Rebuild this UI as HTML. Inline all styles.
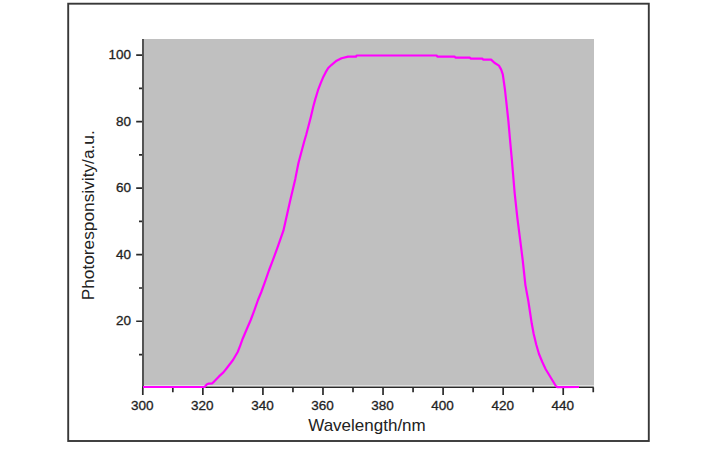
<!DOCTYPE html><html><head><meta charset="utf-8"><style>html,body{margin:0;padding:0;background:#fff;width:726px;height:450px;overflow:hidden}svg{display:block}text{font-family:"Liberation Sans",sans-serif}</style></head><body>
<svg width="726" height="450" viewBox="0 0 726 450">
<rect x="0" y="0" width="726" height="450" fill="#fff"/>
<rect x="68.2" y="3.7" width="580.6" height="437.3" fill="none" stroke="#383838" stroke-width="1.9"/>
<rect x="144" y="39" width="450" height="346.5" fill="#c0c0c0"/>
<path d="M142.80 387.5V395.00 M172.83 387.5V392.20 M202.86 387.5V395.00 M232.89 387.5V392.20 M262.92 387.5V395.00 M292.95 387.5V392.20 M322.98 387.5V395.00 M353.01 387.5V392.20 M383.04 387.5V395.00 M413.07 387.5V392.20 M443.10 387.5V395.00 M473.13 387.5V392.20 M503.16 387.5V395.00 M533.19 387.5V392.20 M563.22 387.5V395.00 M593.25 387.5V392.20 M142 354.53H139.00 M142 321.26H136.20 M142 287.99H139.00 M142 254.72H136.20 M142 221.45H139.00 M142 188.18H136.20 M142 154.91H139.00 M142 121.64H136.20 M142 88.37H139.00 M142 55.10H136.20" stroke="#2a2a2a" stroke-width="1.7" fill="none"/>
<path d="M143 39V388 M142 387.2H593.8" stroke="#2a2a2a" stroke-width="1.6" fill="none"/>
<text x="142.30" y="410.3" font-size="13.5" text-anchor="middle" fill="#222" stroke="#222" stroke-width="0.3">300</text>
<text x="202.36" y="410.3" font-size="13.5" text-anchor="middle" fill="#222" stroke="#222" stroke-width="0.3">320</text>
<text x="262.42" y="410.3" font-size="13.5" text-anchor="middle" fill="#222" stroke="#222" stroke-width="0.3">340</text>
<text x="322.48" y="410.3" font-size="13.5" text-anchor="middle" fill="#222" stroke="#222" stroke-width="0.3">360</text>
<text x="382.54" y="410.3" font-size="13.5" text-anchor="middle" fill="#222" stroke="#222" stroke-width="0.3">380</text>
<text x="442.60" y="410.3" font-size="13.5" text-anchor="middle" fill="#222" stroke="#222" stroke-width="0.3">400</text>
<text x="502.66" y="410.3" font-size="13.5" text-anchor="middle" fill="#222" stroke="#222" stroke-width="0.3">420</text>
<text x="562.72" y="410.3" font-size="13.5" text-anchor="middle" fill="#222" stroke="#222" stroke-width="0.3">440</text>
<text x="131" y="325.46" font-size="13.5" text-anchor="end" fill="#222" stroke="#222" stroke-width="0.3">20</text>
<text x="131" y="258.92" font-size="13.5" text-anchor="end" fill="#222" stroke="#222" stroke-width="0.3">40</text>
<text x="131" y="192.38" font-size="13.5" text-anchor="end" fill="#222" stroke="#222" stroke-width="0.3">60</text>
<text x="131" y="125.84" font-size="13.5" text-anchor="end" fill="#222" stroke="#222" stroke-width="0.3">80</text>
<text x="131" y="59.30" font-size="13.5" text-anchor="end" fill="#222" stroke="#222" stroke-width="0.3">100</text>
<text x="367" y="430.7" font-size="17" text-anchor="middle" fill="#222">Wavelength/nm</text>
<text transform="translate(94.3 215.3) rotate(-90)" x="0" y="0" font-size="17.3" text-anchor="middle" fill="#222">Photoresponsivity/a.u.</text>
<path d="M143.0 387.0 L204.6 387.0 L206.6 384.6 L208.8 383.6 L212.3 383.3 L214.1 381.6 L219.0 376.4 L223.4 372.4 L226.3 368.7 L233.0 360.0 L237.7 352.0 L240.3 345.3 L242.7 338.7 L246.7 329.3 L250.7 320.0 L254.7 309.3 L258.0 300.0 L261.3 292.0 L264.7 282.7 L269.1 270.0 L272.6 260.9 L277.8 246.7 L283.4 230.7 L290.1 201.0 L295.3 178.9 L298.4 163.3 L302.2 149.0 L304.2 141.5 L306.2 134.7 L308.5 126.0 L310.9 116.7 L313.3 106.5 L315.3 99.1 L318.0 90.2 L320.7 83.1 L322.9 77.8 L325.6 72.4 L328.2 68.0 L331.6 64.8 L336.6 60.7 L341.5 58.2 L348.1 56.6 L356.0 56.6 L356.6 55.5 L436.6 55.5 L437.4 56.6 L454.5 56.6 L455.4 57.6 L469.7 57.6 L470.6 58.6 L482.2 58.6 L483.1 59.6 L491.1 59.6 L494.4 62.8 L498.9 65.6 L501.1 69.4 L502.8 74.4 L503.9 82.2 L505.0 90.0 L506.1 100.0 L508.4 121.1 L510.0 139.5 L512.0 161.3 L514.7 193.3 L517.3 217.3 L520.0 238.7 L522.7 260.0 L525.4 285.1 L528.2 300.2 L529.7 310.0 L531.7 323.3 L533.7 334.0 L536.3 344.7 L539.0 354.0 L542.3 362.0 L545.7 369.3 L551.0 378.0 L556.0 386.2 L557.8 387.2 L579.0 387.0" stroke="#ff00ff" stroke-width="2.2" fill="none" stroke-linejoin="round"/>
</svg></body></html>
